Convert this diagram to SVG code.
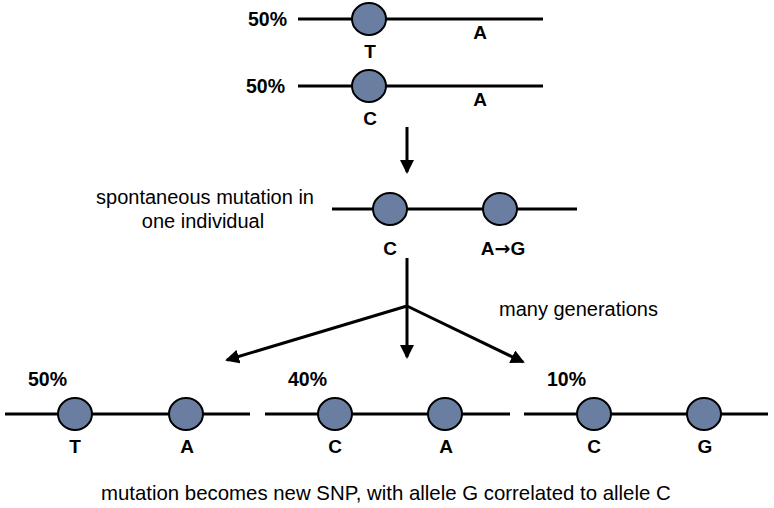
<svg xmlns="http://www.w3.org/2000/svg" width="774" height="508" viewBox="0 0 774 508">
<defs>
<marker id="ah" markerWidth="14" markerHeight="14" refX="12" refY="7" orient="auto" markerUnits="userSpaceOnUse" viewBox="0 0 14 14">
<path d="M0,0 L14,7 L0,14 z" fill="#000"/>
</marker>
<style>
.chr{stroke:#000;stroke-width:3;fill:none}
.snp{fill:#6a7ea1;stroke:#000;stroke-width:2}
.lb{font-family:"Liberation Sans",Arial,sans-serif;font-weight:bold;font-size:19px;fill:#000;text-anchor:middle}
.pc{font-family:"Liberation Sans",Arial,sans-serif;font-weight:bold;font-size:19.5px;fill:#000}
.tx{font-family:"Liberation Sans",Arial,sans-serif;font-size:20px;fill:#000}
.ar{font-family:"DejaVu Sans",sans-serif;font-weight:bold}
.con{stroke:#000;stroke-width:3;fill:none}
</style>
</defs>
<rect width="774" height="508" fill="#fff"/>
<g id="top1">
<text class="pc" x="248" y="26">50%</text>
<line class="chr" x1="298" y1="19" x2="543" y2="19"/>
<ellipse class="snp" cx="369" cy="19" rx="17" ry="16"/>
<text class="lb" x="370" y="58">T</text>
<text class="lb" x="480" y="39">A</text>
</g>
<g id="top2">
<text class="pc" x="246" y="93">50%</text>
<line class="chr" x1="298" y1="86" x2="543" y2="86"/>
<ellipse class="snp" cx="369" cy="86" rx="17" ry="16"/>
<text class="lb" x="370" y="125">C</text>
<text class="lb" x="480" y="106">A</text>
</g>
<g id="mutant">
<text class="tx" x="205" y="204" text-anchor="middle">spontaneous mutation in</text>
<text class="tx" x="203" y="228" text-anchor="middle">one individual</text>
<line class="chr" x1="332" y1="209" x2="577" y2="209"/>
<ellipse class="snp" cx="390" cy="209" rx="17" ry="16"/>
<ellipse class="snp" cx="500" cy="209" rx="17" ry="16"/>
<text class="lb" x="390" y="255">C</text>
<text class="lb" x="503" y="255">A<tspan class="ar">→</tspan>G</text>
</g>
<g id="bottom1">
<text class="pc" x="28" y="386">50%</text>
<line class="chr" x1="5" y1="414" x2="250" y2="414"/>
<ellipse class="snp" cx="75" cy="414" rx="17" ry="16"/>
<ellipse class="snp" cx="186" cy="414" rx="17" ry="16"/>
<text class="lb" x="75" y="453">T</text>
<text class="lb" x="187" y="453">A</text>
</g>
<g id="bottom2">
<text class="pc" x="288" y="386">40%</text>
<line class="chr" x1="265" y1="414" x2="510" y2="414"/>
<ellipse class="snp" cx="335" cy="414" rx="17" ry="16"/>
<ellipse class="snp" cx="445" cy="414" rx="17" ry="16"/>
<text class="lb" x="335" y="453">C</text>
<text class="lb" x="446" y="453">A</text>
</g>
<g id="bottom3">
<text class="pc" x="547" y="386">10%</text>
<line class="chr" x1="524" y1="414" x2="768" y2="414"/>
<ellipse class="snp" cx="594" cy="414" rx="17" ry="16"/>
<ellipse class="snp" cx="704" cy="414" rx="17" ry="16"/>
<text class="lb" x="594" y="453">C</text>
<text class="lb" x="705" y="453">G</text>
</g>
<g id="connectors">
<line class="con" x1="407" y1="127" x2="407" y2="172" marker-end="url(#ah)"/>
<polyline class="con" points="407,258 407,306"/>
<line class="con" x1="407" y1="306" x2="227" y2="360" marker-end="url(#ah)"/>
<line class="con" x1="407" y1="306" x2="407" y2="357" marker-end="url(#ah)"/>
<line class="con" x1="407" y1="306" x2="523" y2="362" marker-end="url(#ah)"/>
<text class="tx" x="499" y="316">many generations</text>
</g>
<text class="tx" x="101" y="500" style="font-size:20.4px">mutation becomes new SNP, with allele G correlated to allele C</text>
</svg>
